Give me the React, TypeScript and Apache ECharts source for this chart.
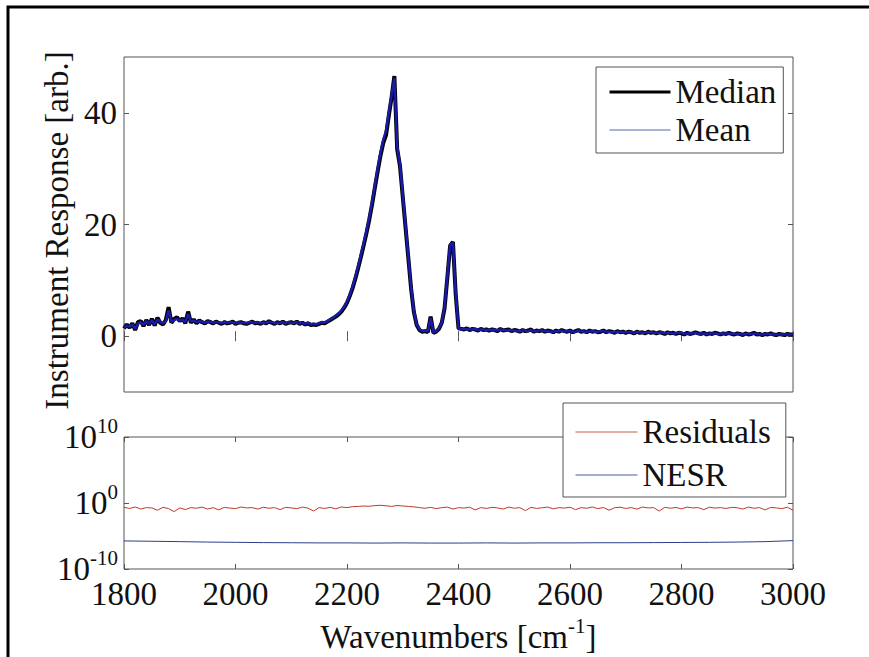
import React, { useEffect, useRef } from "react";
import * as echarts from "echarts";

// Spectrum sampled every 5 cm^-1 from 1800 to 3000 cm^-1
const WN_START = 1800;
const WN_STEP = 5;

const MEDIAN: number[] = [
  1.4, 2.1, 1.5, 2.3, 1.1, 2.5, 2.7, 1.8, 2.9, 2.0, 3.1, 1.9, 3.3, 2.4, 2.1, 2.9, 5.2, 2.4, 3.1, 3.4,
  2.7, 3.2, 2.3, 4.4, 2.4, 3.0, 2.3, 2.8, 2.5, 2.3, 2.7,
  2.5, 2.3, 2.6, 2.4, 2.2, 2.5, 2.3, 2.4, 2.6, 2.2,
  2.4, 2.5, 2.3, 2.2, 2.4, 2.6, 2.3, 2.4, 2.2, 2.5,
  2.3, 2.7, 2.4, 2.2, 2.5, 2.3, 2.6, 2.2, 2.4, 2.5,
  2.3, 2.6, 2.2, 2.4, 2.1, 2.3, 2.0, 2.1, 2.0, 2.2,
  2.4, 2.3, 2.6, 2.9, 3.2, 3.5, 3.9, 4.4, 5.1, 6.0,
  7.2, 8.6, 10.3, 12.2, 14.2, 16.3, 18.5, 20.9, 23.6, 26.6,
  29.5, 32.3, 34.6, 36.0, 39.5, 42.8, 46.6, 33.5, 30.5, 25.0,
  19.5, 14.0, 8.5, 4.3, 2.0, 1.1, 0.8, 0.9, 0.7, 3.5,
  0.6, 0.8, 1.3, 2.4, 5.0, 10.5, 16.2, 16.9, 7.5, 1.4,
  1.3, 1.2, 1.4, 1.1, 1.3, 1.2, 1.0, 1.3, 1.1, 1.2,
  1.0, 1.2, 1.1, 0.9, 1.3, 1.0, 1.1, 1.2, 0.9, 1.1,
  1.0, 0.8, 1.1, 0.9, 1.0, 1.2, 0.8, 1.0, 0.9, 1.1,
  0.8, 1.0, 0.9, 0.7, 1.0, 0.8, 1.1, 0.9, 0.8, 1.0,
  0.7, 0.9, 1.1, 0.8, 0.9, 0.7, 1.0, 0.8, 0.9, 0.7,
  0.8, 1.0, 0.7, 0.9, 0.8, 0.6, 0.9, 0.7, 0.8, 0.6,
  0.8, 0.7, 0.5, 0.8, 0.6, 0.7, 0.5, 0.8, 0.6, 0.7,
  0.5, 0.7, 0.6, 0.4, 0.7, 0.5, 0.6, 0.4, 0.6, 0.5,
  0.3, 0.6, 0.4, 0.5, 0.7, 0.5, 0.4, 0.6, 0.3, 0.5,
  0.4, 0.6, 0.5, 0.3, 0.5, 0.4, 0.6, 0.4, 0.3, 0.5,
  0.4, 0.2, 0.5, 0.3, 0.4, 0.6, 0.3, 0.4, 0.2, 0.4,
  0.3, 0.5, 0.3, 0.2, 0.4, 0.3, 0.2, 0.4, 0.3, 0.3,
];

const MEAN: number[] = [
  1.6, 1.9, 1.7, 2.1, 1.3, 2.3, 2.5, 2.0, 2.7, 2.2, 2.9, 2.1, 3.0, 2.6, 2.3, 2.7, 4.6, 2.6, 2.9, 3.1,
  2.8, 3.0, 2.5, 4.0, 2.6, 2.8, 2.5, 2.7, 2.6, 2.4, 2.6,
  2.6, 2.4, 2.5, 2.5, 2.3, 2.6, 2.4, 2.5, 2.5, 2.3,
  2.5, 2.4, 2.4, 2.3, 2.5, 2.5, 2.4, 2.5, 2.3, 2.4,
  2.4, 2.6, 2.5, 2.3, 2.4, 2.4, 2.5, 2.3, 2.5, 2.4,
  2.4, 2.5, 2.3, 2.3, 2.2, 2.4, 2.1, 2.2, 2.1, 2.3,
  2.5, 2.4, 2.7, 3.0, 3.3, 3.7, 4.1, 4.6, 5.3, 6.2,
  7.4, 8.9, 10.6, 12.5, 14.6, 16.7, 18.9, 21.3, 24.0, 27.0,
  30.0, 32.8, 35.2, 36.8, 40.0, 43.2, 46.2, 34.0, 30.8, 25.4,
  19.8, 14.3, 8.8, 4.5, 2.1, 1.2, 0.9, 1.0, 0.8, 3.2,
  0.7, 0.9, 1.4, 2.5, 5.2, 10.8, 16.4, 16.7, 7.8, 1.5,
  1.2, 1.3, 1.3, 1.2, 1.2, 1.3, 1.1, 1.2, 1.2, 1.1,
  1.1, 1.1, 1.2, 1.0, 1.2, 1.1, 1.0, 1.1, 1.0, 1.0,
  0.9, 0.9, 1.0, 1.0, 0.9, 1.1, 0.9, 0.9, 1.0, 1.0,
  0.9, 0.9, 0.8, 0.8, 0.9, 0.9, 1.0, 0.8, 0.9, 0.9,
  0.8, 0.8, 1.0, 0.9, 0.8, 0.8, 0.9, 0.9, 0.8, 0.8,
  0.9, 0.9, 0.8, 0.8, 0.7, 0.7, 0.8, 0.8, 0.7, 0.7,
  0.7, 0.8, 0.6, 0.7, 0.7, 0.6, 0.6, 0.7, 0.7, 0.6,
  0.6, 0.6, 0.7, 0.5, 0.6, 0.6, 0.5, 0.5, 0.6, 0.6,
  0.4, 0.5, 0.5, 0.5, 0.6, 0.4, 0.5, 0.5, 0.4, 0.5,
  0.5, 0.5, 0.4, 0.4, 0.5, 0.5, 0.5, 0.4, 0.4, 0.4,
  0.4, 0.3, 0.4, 0.4, 0.4, 0.5, 0.4, 0.3, 0.3, 0.4,
  0.4, 0.4, 0.3, 0.3, 0.3, 0.3, 0.3, 0.3, 0.3, 0.3,
];

// Residuals sampled every 10 cm^-1
const RES_STEP = 10;
const RESIDUALS: number[] = [
  0.22, 0.15, 0.25, 0.12, 0.2, 0.18, 0.08, 0.22, 0.14, 0.05,
  0.18, 0.1, 0.2, 0.16, 0.24, 0.12, 0.2, 0.09, 0.22, 0.17,
  0.14, 0.25, 0.18, 0.2, 0.12, 0.23, 0.16, 0.2, 0.1, 0.22,
  0.18, 0.14, 0.24, 0.17, 0.06, 0.2, 0.15, 0.22, 0.13, 0.25,
  0.2, 0.28, 0.3, 0.35, 0.32, 0.4, 0.45, 0.38, 0.3, 0.42,
  0.35, 0.3, 0.26, 0.2, 0.16, 0.22, 0.14, 0.2, 0.24, 0.12,
  0.2, 0.17, 0.23, 0.09, 0.2, 0.15, 0.22, 0.18, 0.12, 0.24,
  0.16, 0.2, 0.07, 0.22, 0.15, 0.19, 0.24, 0.13, 0.2, 0.17,
  0.23, 0.1, 0.2, 0.16, 0.25, 0.14, 0.21, 0.08, 0.19, 0.23,
  0.15, 0.2, 0.12, 0.24, 0.18, 0.2, 0.06, 0.22, 0.16, 0.21,
  0.13, 0.24, 0.18, 0.2, 0.1, 0.23, 0.17, 0.2, 0.15, 0.22,
  0.19, 0.12, 0.24, 0.16, 0.2, 0.09, 0.22, 0.18, 0.14, 0.23,
  0.08,
];

// NESR sampled every 50 cm^-1
const NESR_STEP = 50;
const NESR: number[] = [
  1.8e-6, 1.6e-6, 1.4e-6, 1.2e-6, 1.1e-6, 1.0e-6, 0.95e-6, 0.9e-6, 0.9e-6, 0.85e-6,
  0.9e-6, 0.85e-6, 0.85e-6, 0.9e-6, 0.85e-6, 0.9e-6, 0.9e-6, 0.95e-6, 0.95e-6, 1.0e-6,
  1.05e-6, 1.1e-6, 1.2e-6, 1.4e-6, 2.0e-6,
];

const X_MIN = 1800;
const X_MAX = 3000;
const X_INTERVAL = 200;
const TOP_Y_TICKS = [0, 20, 40];

const FONT = "'Liberation Serif', 'Times New Roman', Times, serif";
const FS = 33;
const FRAME = "#555";
const TEXT = "#111";

const toPairs = (vals: number[], step: number) =>
  vals.map((v, i) => [WN_START + i * step, v]);

export default function App() {
  const ref = useRef<HTMLDivElement>(null);

  useEffect(() => {
    if (!ref.current) return;
    const chart = echarts.init(ref.current, undefined, { renderer: "svg" });

    const tickStyle = { inside: true, length: 5, lineStyle: { color: FRAME, width: 1 } };
    const xBase = {
      type: "value" as const,
      min: X_MIN,
      max: X_MAX,
      interval: X_INTERVAL,
      axisLine: { show: false },
      axisTick: tickStyle,
      splitLine: { show: false },
      axisLabel: { show: false },
    };
    const supRich = {
      b: { fontSize: FS, fontFamily: FONT, color: TEXT, lineHeight: 44, verticalAlign: "middle" },
      s: { fontSize: 21, fontFamily: FONT, color: TEXT, lineHeight: 18, verticalAlign: "top" },
    };
    const legendCommon = {
      orient: "vertical",
      itemHeight: 1,
      borderColor: FRAME,
      borderWidth: 1,
      borderRadius: 0,
      backgroundColor: "#fff",
      selectedMode: false,
      itemStyle: { opacity: 0 },
      textStyle: { fontSize: FS, lineHeight: 36, fontFamily: FONT, color: TEXT },
    };

    const option: any = {
      animation: false,
      backgroundColor: "#fff",
      textStyle: { fontFamily: FONT },
      grid: [
        { left: 124, top: 57, width: 669, height: 335, show: true, borderColor: FRAME, borderWidth: 1, backgroundColor: "transparent" },
        { left: 124, top: 437, width: 669, height: 132, show: true, borderColor: FRAME, borderWidth: 1, backgroundColor: "transparent" },
      ],
      xAxis: [
        { ...xBase, gridIndex: 0, position: "bottom" },
        { ...xBase, gridIndex: 0, position: "top" },
        {
          ...xBase,
          gridIndex: 1,
          position: "bottom",
          axisLabel: {
            show: true,
            fontSize: FS,
            fontFamily: FONT,
            color: TEXT,
            margin: 8,
            formatter: (v: number) => String(v),
          },
          name: "{n|Wavenumbers [cm}{s|-1}{n|]}",
          nameLocation: "middle",
          nameGap: 46,
          nameTextStyle: {
            rich: {
              n: { fontSize: FS, fontFamily: FONT, color: TEXT, lineHeight: 44, verticalAlign: "middle" },
              s: { fontSize: 21, fontFamily: FONT, color: TEXT, lineHeight: 18, verticalAlign: "top" },
            },
          },
        },
        { ...xBase, gridIndex: 1, position: "top" },
      ],
      yAxis: [
        {
          gridIndex: 0,
          type: "value",
          min: -10,
          max: 50,
          position: "left",
          axisLine: { show: false },
          splitLine: { show: false },
          axisTick: { ...tickStyle, customValues: TOP_Y_TICKS },
          axisLabel: { customValues: TOP_Y_TICKS, fontSize: FS, fontFamily: FONT, color: TEXT, margin: 7 },
          name: "Instrument Response [arb.]",
          nameLocation: "middle",
          nameRotate: 90,
          nameGap: 48,
          nameTextStyle: { fontSize: FS, fontFamily: FONT, color: TEXT, lineHeight: 32, padding: [0, 12, 0, 0] },
        },
        {
          gridIndex: 0,
          type: "value",
          min: -10,
          max: 50,
          position: "right",
          axisLine: { show: false },
          splitLine: { show: false },
          axisTick: { ...tickStyle, customValues: TOP_Y_TICKS },
          axisLabel: { show: false },
        },
        {
          gridIndex: 1,
          type: "log",
          logBase: 10,
          min: 1e-10,
          max: 1e10,
          interval: 10,
          position: "left",
          axisLine: { show: false },
          splitLine: { show: false },
          minorTick: { show: false },
          axisTick: tickStyle,
          axisLabel: {
            margin: 6,
            formatter: (v: number) => `{b|10}{s|${Math.round(Math.log10(v))}}`,
            rich: supRich,
          },
        },
        {
          gridIndex: 1,
          type: "log",
          logBase: 10,
          min: 1e-10,
          max: 1e10,
          interval: 10,
          position: "right",
          axisLine: { show: false },
          splitLine: { show: false },
          axisTick: tickStyle,
          axisLabel: { show: false },
        },
      ],
      legend: [
        {
          ...legendCommon,
          data: [
            { name: "Median", lineStyle: { color: "#000", width: 3 }, itemStyle: { opacity: 0 } },
            { name: "Mean", lineStyle: { color: "#4a66b0", width: 1 }, itemStyle: { opacity: 0 } },
          ],
          left: 596,
          top: 67,
          itemWidth: 61,
          itemGap: 2,
          padding: [7, 7, 5, 12],
        },
        {
          ...legendCommon,
          data: [
            { name: "Residuals", lineStyle: { color: "#c85a4a", width: 1 }, itemStyle: { opacity: 0 } },
            { name: "NESR", lineStyle: { color: "#4a5c9e", width: 1 }, itemStyle: { opacity: 0 } },
          ],
          left: 563,
          top: 403,
          itemWidth: 62,
          itemGap: 7,
          padding: [11, 15, 4, 12],
        },
      ],
      series: [
        {
          name: "Median",
          type: "line",
          xAxisIndex: 0,
          yAxisIndex: 0,
          data: toPairs(MEDIAN, WN_STEP),
          symbol: "none",
          showSymbol: false,
          lineStyle: { color: "#000", width: 4 },
          itemStyle: { color: "#000" },
          z: 2,
        },
        {
          name: "Mean",
          type: "line",
          xAxisIndex: 0,
          yAxisIndex: 0,
          data: toPairs(MEAN, WN_STEP),
          symbol: "none",
          showSymbol: false,
          lineStyle: { color: "#1a1aa8", width: 2.5 },
          itemStyle: { color: "#1a1aa8" },
          z: 3,
        },
        {
          name: "Residuals",
          type: "line",
          xAxisIndex: 2,
          yAxisIndex: 2,
          data: toPairs(RESIDUALS, RES_STEP),
          symbol: "none",
          showSymbol: false,
          lineStyle: { color: "#c0392b", width: 1 },
          itemStyle: { color: "#c0392b" },
        },
        {
          name: "NESR",
          type: "line",
          xAxisIndex: 2,
          yAxisIndex: 2,
          data: toPairs(NESR, NESR_STEP),
          symbol: "none",
          showSymbol: false,
          lineStyle: { color: "#2b3d8a", width: 1 },
          itemStyle: { color: "#2b3d8a" },
        },
      ],
      graphic: [
        {
          type: "polyline",
          shape: { points: [[8, 657], [8, 7], [869, 7]] },
          style: { stroke: "#000", lineWidth: 3, fill: "none" },
          z: 100,
          silent: true,
        },
      ],
    };

    chart.setOption(option);
    return () => chart.dispose();
  }, []);

  return (
    <div
      ref={ref}
      style={{ position: "fixed", left: 0, top: 0, width: 869, height: 657, background: "#fff" }}
    />
  );
}
